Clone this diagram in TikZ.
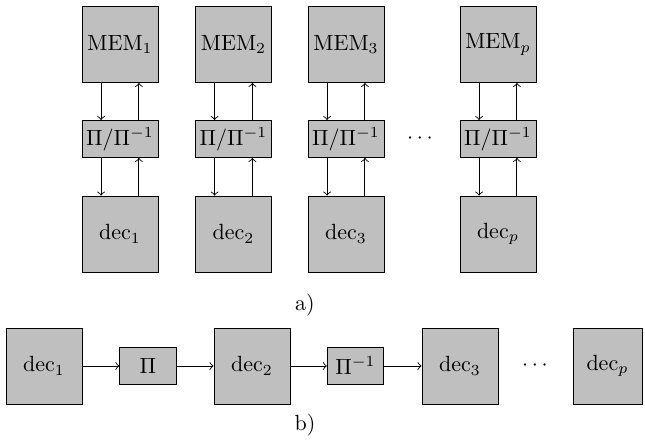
\documentclass[tikz,border=0pt]{standalone}
\begin{document}
\begin{tikzpicture}[->,x=0.4545pt,y=-0.4545pt]
			\tikzstyle{blk} = [rectangle,draw,fill=gray!50,minimum size=34.5pt,inner sep=0pt]
			\tikzstyle{perm} = [rectangle,draw,fill=gray!50,minimum width=34.5pt,minimum height=16.8pt,inner sep=0pt]
			\tikzstyle{pbox} = [rectangle,draw,fill=gray!50,minimum width=25.6pt,minimum height=17.2pt,inner sep=0pt]
			\useasboundingbox (0,0) rectangle (645,443);
			
			% a) parallel decoders
			\node[blk] (m1) at (120,44.5) {$\mathrm{MEM}_1$};
			\node[blk] (m2) at (233.5,44.5) {$\mathrm{MEM}_2$};
			\node[blk] (m3) at (346,44.5) {$\mathrm{MEM}_3$};
			\node[blk] (mp) at (498,44.5) {$\mathrm{MEM}_p$};
			
			\node[perm] (p1) at (120,139) {$\Pi/\Pi^{-1}$};
			\node[perm] (p2) at (233.5,139) {$\Pi/\Pi^{-1}$};
			\node[perm] (p3) at (346,139) {$\Pi/\Pi^{-1}$};
			\node[perm] (pp) at (498,139) {$\Pi/\Pi^{-1}$};
			\node (dots1) at (420,139) {$\cdots$};
			
			\node[blk] (d1) at (120,234) {$\mathrm{dec}_1$};
			\node[blk] (d2) at (233.5,234) {$\mathrm{dec}_2$};
			\node[blk] (d3) at (346,234) {$\mathrm{dec}_3$};
			\node[blk] (dp) at (498,234) {$\mathrm{dec}_p$};
			
			\path ([xshift=-8.6pt]m1.south) edge ([xshift=-8.6pt]p1.north);
			\path ([xshift=8.6pt]p1.north) edge ([xshift=8.6pt]m1.south);
			\path ([xshift=-8.6pt]p1.south) edge ([xshift=-8.6pt]d1.north);
			\path ([xshift=8.6pt]d1.north) edge ([xshift=8.6pt]p1.south);
			
			\path ([xshift=-8.6pt]m2.south) edge ([xshift=-8.6pt]p2.north);
			\path ([xshift=8.6pt]p2.north) edge ([xshift=8.6pt]m2.south);
			\path ([xshift=-8.6pt]p2.south) edge ([xshift=-8.6pt]d2.north);
			\path ([xshift=8.6pt]d2.north) edge ([xshift=8.6pt]p2.south);
			
			\path ([xshift=-8.6pt]m3.south) edge ([xshift=-8.6pt]p3.north);
			\path ([xshift=8.6pt]p3.north) edge ([xshift=8.6pt]m3.south);
			\path ([xshift=-8.6pt]p3.south) edge ([xshift=-8.6pt]d3.north);
			\path ([xshift=8.6pt]d3.north) edge ([xshift=8.6pt]p3.south);
			
			\path ([xshift=-8.6pt]mp.south) edge ([xshift=-8.6pt]pp.north);
			\path ([xshift=8.6pt]pp.north) edge ([xshift=8.6pt]mp.south);
			\path ([xshift=-8.6pt]pp.south) edge ([xshift=-8.6pt]dp.north);
			\path ([xshift=8.6pt]dp.north) edge ([xshift=8.6pt]pp.south);
			
			\node (la) at (305,305) {a)};
			
			% b) serial decoders
			\node[blk] (s1) at (44,366) {$\mathrm{dec}_1$};
			\node[pbox] (q1) at (148,366) {$\Pi$};
			\node[blk] (s2) at (252,366) {$\mathrm{dec}_2$};
			\node[pbox] (q2) at (355.5,366) {$\Pi^{-1}$};
			\node[blk] (s3) at (460,366) {$\mathrm{dec}_3$};
			\node (dots2) at (535,366) {$\cdots$};
			\node[blk,minimum width=31.4pt] (sp) at (607.5,366) {$\mathrm{dec}_p$};
			
			\path (s1) edge (q1);
			\path (q1) edge (s2);
			\path (s2) edge (q2);
			\path (q2) edge (s3);
			
			\node (lb) at (305,425) {b)};
		\end{tikzpicture}
\end{document}
